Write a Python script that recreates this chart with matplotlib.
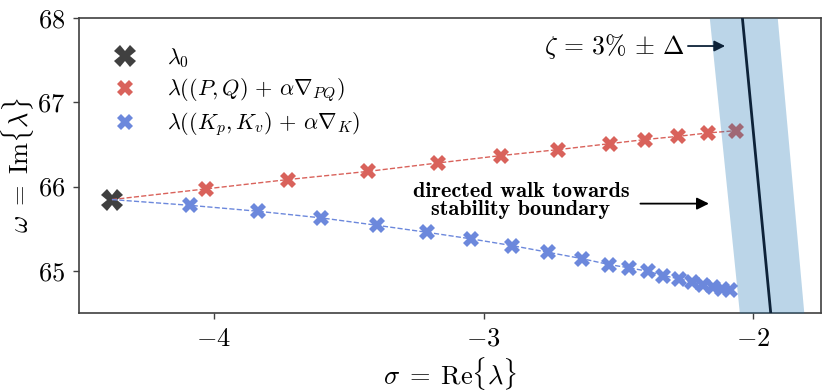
import numpy as np
import matplotlib
matplotlib.use("Agg")
import matplotlib.pyplot as plt

plt.rcParams['mathtext.fontset'] = 'cm'
plt.rcParams['font.family'] = 'serif'
plt.rcParams['font.serif'] = ['cmr10', 'DejaVu Serif']
plt.rcParams['axes.formatter.use_mathtext'] = True

# ---- data ----
lambda0 = (-4.378, 65.846)

red_sigma = [-4.029, -3.727, -3.427, -3.168, -2.936, -2.723, -2.531, -2.402, -2.278, -2.167, -2.063]
red_omega = [65.973, 66.083, 66.181, 66.281, 66.368, 66.439, 66.510, 66.558, 66.597, 66.637, 66.664]

blue_sigma = [-4.090, -3.835, -3.603, -3.396, -3.211, -3.047, -2.895, -2.762, -2.637, -2.535,
              -2.461, -2.391, -2.334, -2.275, -2.227, -2.187, -2.150, -2.116, -2.087]
blue_omega = [65.778, 65.707, 65.629, 65.541, 65.458, 65.380, 65.300, 65.221, 65.146, 65.075,
              65.036, 64.995, 64.944, 64.905, 64.870, 64.837, 64.810, 64.790, 64.770]

zeta = 0.03
zeta_lo = 0.0281
zeta_hi = 0.0318

xticks = [-4, -3, -2]
xticklabels = ['$-4$', '$-3$', '$-2$']
yticks = [65, 66, 67, 68]
yticklabels = ['$65$', '$66$', '$67$', '$68$']

labels = [r'$\lambda_0$', r'$\lambda((P,Q)\,+\,\alpha\nabla_{PQ})$',
          r'$\lambda((K_p,K_v)\,+\,\alpha\nabla_{K})$']

RED = '#d9625b'
BLUE = '#6c88dc'
DARK = '#404040'
NAVY = '#0d2238'

fig = plt.figure(figsize=(8.3, 3.92), dpi=100)
ax = fig.add_axes([0.0952, 0.2015, 0.8938, 0.7525])

xlim = (-4.5, -1.75)
ylim = (64.5, 68.0)

# stability boundary band
om = np.linspace(ylim[0], ylim[1], 50)
def sig(z, w):
    return -z * w / np.sqrt(1 - z ** 2)
ax.fill_betweenx(om, sig(zeta_hi, om), sig(zeta_lo, om), color='#1f77b4', alpha=0.3,
                 lw=0, zorder=5)
ax.plot(sig(zeta, om), om, color=NAVY, lw=2, zorder=6)

ax.plot(lambda0[0], lambda0[1], 'X', color=DARK, ms=15.5, mew=0, zorder=1, label=labels[0])
ax.plot([lambda0[0]] + red_sigma, [lambda0[1]] + red_omega, '--', color=RED, lw=1, zorder=2)
ax.plot(red_sigma, red_omega, 'X', color=RED, ms=11.5, mew=0, zorder=3, label=labels[1])
ax.plot([lambda0[0]] + blue_sigma, [lambda0[1]] + blue_omega, '--', color=BLUE, lw=1, zorder=2)
ax.plot(blue_sigma, blue_omega, 'X', color=BLUE, ms=11.5, mew=0, zorder=3, label=labels[2])

ax.set_xlim(*xlim)
ax.set_ylim(*ylim)
ax.set_xticks(xticks)
ax.set_xticklabels(xticklabels)
ax.set_yticks(yticks)
ax.set_yticklabels(yticklabels)
ax.tick_params(direction='out', length=4, width=1, colors='#404040', labelsize=19,
               labelcolor='black', pad=6)
for s in ax.spines.values():
    s.set_color('#404040')
    s.set_linewidth(1.2)

ax.set_xlabel(r'$\sigma\;=\;\mathrm{Re}\{\lambda\}$', fontsize=19, labelpad=3)
ax.set_ylabel(r'$\omega\;=\;\mathrm{Im}\{\lambda\}$', fontsize=19, labelpad=1)

ax.annotate(r'$\zeta\,=\,3\%\,\pm\,\Delta$', xy=(-2.105, 67.668), xytext=(-2.253, 67.668),
            ha='right', va='center', fontsize=18.5,
            arrowprops=dict(arrowstyle='-|>', color=NAVY, lw=1.3, mutation_scale=16,
                            shrinkA=0, shrinkB=0), zorder=7)

ax.text(-2.862, 65.834, 'directed walk towards\nstability boundary', ha='center',
        va='center', fontsize=16, family='cmb10', linespacing=0.9)
ax.annotate('', xy=(-2.165, 65.798), xytext=(-2.419, 65.798),
            arrowprops=dict(arrowstyle='-|>', color='black', lw=1.3, mutation_scale=18,
                            shrinkA=0, shrinkB=0))

leg = ax.legend(loc='upper left', frameon=False, fontsize=16, labelspacing=0.28,
                handlelength=1.0, handletextpad=1.4, borderaxespad=0.0,
                bbox_to_anchor=(0.035, 0.935))

fig.savefig('out.png', dpi=100)
